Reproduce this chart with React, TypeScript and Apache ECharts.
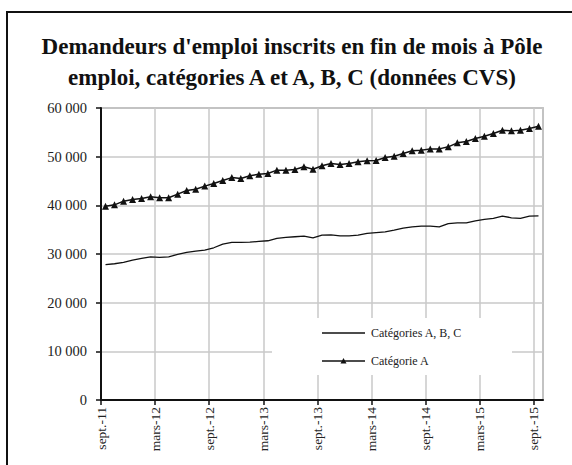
import React, { useEffect, useRef } from "react";
import * as echarts from "echarts";

const tickLabels = ["sept.-11", "mars-12", "sept.-12", "mars-13", "sept.-13", "mars-14", "sept.-14", "mars-15", "sept.-15"];

const categorieA = [
  39800, 40100, 40860, 41200, 41400, 41750, 41550, 41550, 42300, 43050,
  43300, 43950, 44500, 45100, 45700, 45500, 46060, 46400, 46550, 47230,
  47230, 47360, 47910, 47430, 48120, 48600, 48390, 48600, 48940, 49150,
  49200, 49830, 50100, 50650, 51200, 51330, 51600, 51600, 52020, 52840,
  53120, 53730, 54210, 54750, 55440, 55300, 55440, 55780, 56260,
];

const categoriesABC = [
  27800, 28000, 28270, 28750, 29090, 29430, 29300, 29430, 29910, 30320,
  30600, 30800, 31280, 32030, 32370, 32400, 32440, 32580, 32720, 33190,
  33400, 33540, 33680, 33330, 33880, 33950, 33740, 33740, 33880, 34220,
  34400, 34550, 34910, 35320, 35590, 35730, 35730, 35590, 36260, 36400,
  36400, 36810, 37100, 37300, 37780, 37440, 37300, 37780, 37850,
];

const titleText = "Demandeurs d'emploi inscrits en fin de mois à Pôle\nemploi, catégories A et A, B, C (données CVS)";
const seriesNames = ["Catégories A, B, C", "Catégorie A"];

const SERIF = "Liberation Serif";

export default function App() {
  const ref = useRef<HTMLDivElement>(null);
  useEffect(() => {
    if (!ref.current) return;
    const chart = echarts.init(ref.current, null, { renderer: "svg" });
    const toPairs = (arr: number[]) => arr.map((v, i) => [i + 0.5, v]);
    chart.setOption({
      animation: false,
      backgroundColor: "#ffffff",
      title: {
        text: titleText,
        left: 287,
        top: 26,
        textAlign: "center",
        textStyle: {
          fontFamily: SERIF,
          fontWeight: "bold",
          fontSize: 23,
          lineHeight: 31,
          color: "#111",
        },
      },
      grid: {
        left: 101,
        right: 29,
        top: 108,
        bottom: 65,
        show: true,
        borderColor: "#9a9a9a",
        borderWidth: 1.5,
        backgroundColor: "#fff",
      },
      xAxis: {
        type: "value",
        min: 0,
        max: 49,
        interval: 6,
        axisLine: { show: true, lineStyle: { color: "#111", width: 2 } },
        axisTick: { show: true, length: 5, lineStyle: { color: "#111", width: 1.5 } },
        splitLine: { show: true, lineStyle: { color: "#c8c8c8", width: 1.5 } },
        axisLabel: {
          rotate: 90,
          margin: 7,
          showMaxLabel: false,
          fontFamily: SERIF,
          fontSize: 13.5,
          color: "#222",
          formatter: (v: number) => {
            const k = Math.round(v / 6);
            return Math.abs(v - k * 6) < 1e-6 && tickLabels[k] ? tickLabels[k] : "";
          },
        },
      },
      yAxis: {
        type: "value",
        min: 0,
        max: 60000,
        interval: 10000,
        axisLine: { show: true, lineStyle: { color: "#111", width: 2 } },
        axisTick: { show: true, length: 5, lineStyle: { color: "#111", width: 1.5 } },
        splitLine: { show: true, lineStyle: { color: "#c8c8c8", width: 1.5 } },
        axisLabel: {
          margin: 14,
          fontFamily: SERIF,
          fontSize: 14.5,
          color: "#222",
          formatter: (v: number) => String(v).replace(/\B(?=(\d{3})+(?!\d))/g, " "),
        },
      },
      graphic: [
        {
          type: "rect",
          z: 5,
          shape: { x: 272, y: 318, width: 240, height: 57 },
          style: { fill: "#ffffff" },
        },
        {
          type: "line",
          z: 6,
          shape: { x1: 322, y1: 333, x2: 365, y2: 333 },
          style: { stroke: "#111", lineWidth: 1.5 },
        },
        {
          type: "text",
          z: 6,
          x: 371,
          y: 333,
          style: { text: seriesNames[0], fill: "#222", font: "12px " + SERIF, textVerticalAlign: "middle" },
        },
        {
          type: "line",
          z: 6,
          shape: { x1: 322, y1: 361, x2: 365, y2: 361 },
          style: { stroke: "#111", lineWidth: 1.5 },
        },
        {
          type: "polygon",
          z: 7,
          shape: { points: [[343.5, 358], [346.5, 363.5], [340.5, 363.5]] },
          style: { fill: "#111" },
        },
        {
          type: "text",
          z: 6,
          x: 371,
          y: 361,
          style: { text: seriesNames[1], fill: "#222", font: "12px " + SERIF, textVerticalAlign: "middle" },
        },
        {
          type: "rect",
          z: 30,
          shape: { x: 7, y: 12, width: 620, height: 520 },
          style: { fill: "none", stroke: "#111", lineWidth: 2 },
        },
      ],
      series: [
        {
          name: seriesNames[0],
          type: "line",
          data: toPairs(categoriesABC),
          symbol: "none",
          lineStyle: { color: "#111", width: 1.3 },
          itemStyle: { color: "#111" },
          z: 3,
        },
        {
          name: seriesNames[1],
          type: "line",
          data: toPairs(categorieA),
          symbol: "triangle",
          symbolSize: 7,
          showSymbol: true,
          lineStyle: { color: "#111", width: 1.5 },
          itemStyle: { color: "#111" },
          z: 3,
        },
      ],
    });
    return () => chart.dispose();
  }, []);
  return <div ref={ref} style={{ position: "fixed", left: 0, top: 0, width: 572, height: 465 }} />;
}
